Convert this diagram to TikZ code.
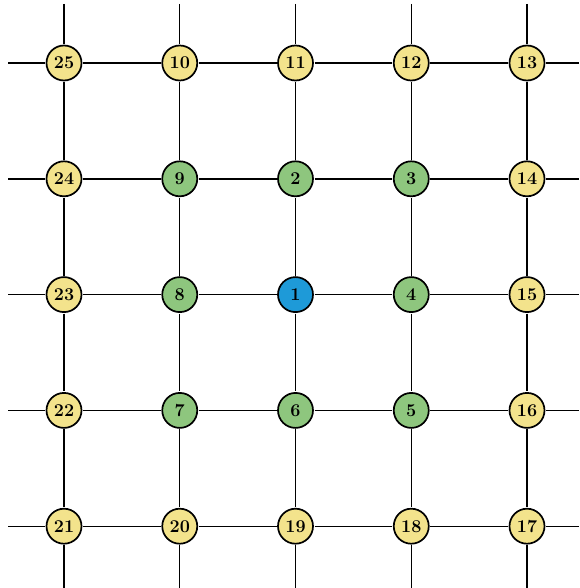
\documentclass[tikz,border=0pt]{standalone}
\usepackage{fontspec}
\usepackage{tikz}
\definecolor{outerColor}{HTML}{F3E38C}
\definecolor{innerColor}{HTML}{8EC67E}
\definecolor{centreColor}{HTML}{1E9AD8}

\begin{document}
\begin{tikzpicture}[x=1pt, y=-1pt,
    site/.style={circle, draw, line width=1.7pt, minimum size=35pt, inner sep=0pt, outer sep=1.5pt, font=\fontsize{18}{18}\selectfont\bfseries},
    link/.style={line width=1.4pt}]
    \useasboundingbox (0,0) rectangle (579,588);
    % sites, row by row, numbered as a spiral from the centre
    \foreach \lab [count=\i from 0] in {25,10,11,12,13,24,9,2,3,14,23,8,1,4,15,22,7,6,5,16,21,20,19,18,17} {
        \pgfmathtruncatemacro{\r}{div(\i,5)}
        \pgfmathtruncatemacro{\c}{mod(\i,5)}
        \pgfmathtruncatemacro{\ring}{max(abs(\r-2),abs(\c-2))}
        \ifnum\ring=0 \def\fillc{centreColor}\else\ifnum\ring=1 \def\fillc{innerColor}\else\def\fillc{outerColor}\fi\fi
        \node[site, fill=\fillc, alias=n\lab] (p\r\c) at ({64+115.75*\c}, {63+115.8*\r}) {\lab};
    }
    % horizontal links
    \foreach \r in {0,...,4} {
        \coordinate (w\r) at (8, {63+115.8*\r});
        \coordinate (e\r) at (579, {63+115.8*\r});
        \draw[link] (w\r) -- (p\r0);
        \draw[link] (p\r4) -- (e\r);
        \foreach \c in {0,...,3} {
            \pgfmathtruncatemacro{\d}{\c+1}
            \draw[link] (p\r\c) -- (p\r\d);
        }
    }
    % vertical links
    \foreach \c in {0,...,4} {
        \coordinate (t\c) at ({64+115.75*\c}, 4);
        \coordinate (b\c) at ({64+115.75*\c}, 588);
        \draw[link] (t\c) -- (p0\c);
        \draw[link] (p4\c) -- (b\c);
        \foreach \r in {0,...,3} {
            \pgfmathtruncatemacro{\s}{\r+1}
            \draw[link] (p\r\c) -- (p\s\c);
        }
    }
\end{tikzpicture}
\end{document}
